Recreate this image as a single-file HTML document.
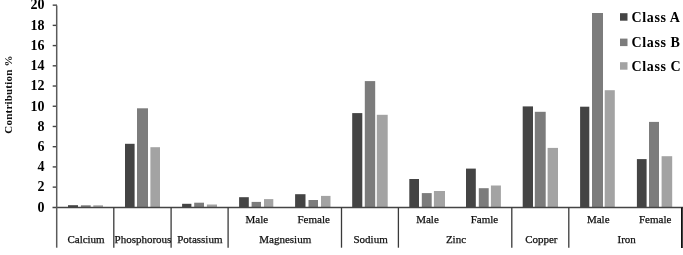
<!DOCTYPE html>
<html><head><meta charset="utf-8"><title>Contribution chart</title>
<style>
html,body{margin:0;padding:0;background:#fff;}
body{width:683px;height:255px;overflow:hidden;}
svg{display:block;filter:blur(0.3px);}
.tl{font-family:"Liberation Serif",serif;font-weight:bold;font-size:14px;fill:#000;}
.cl{font-family:"Liberation Serif",serif;font-size:11px;fill:#111;stroke:#111;stroke-width:0.25px;}
.lg{font-family:"Liberation Serif",serif;font-weight:bold;font-size:14px;fill:#000;letter-spacing:0.6px;}
.yl{font-family:"Liberation Serif",serif;font-weight:bold;font-size:11px;fill:#111;letter-spacing:0.2px;}
</style></head>
<body>
<svg width="683" height="255" viewBox="0 0 683 255">
<rect width="683" height="255" fill="#fff"/>
<g>
<rect x="68.00" y="205.20" width="10.00" height="2.40" fill="#444444"/>
<rect x="80.90" y="205.30" width="9.80" height="2.30" fill="#7c7c7c"/>
<rect x="93.30" y="205.30" width="9.70" height="2.30" fill="#a3a3a3"/>
<rect x="125.00" y="143.80" width="9.60" height="63.80" fill="#444444"/>
<rect x="137.00" y="108.30" width="11.00" height="99.30" fill="#7c7c7c"/>
<rect x="150.40" y="147.20" width="9.60" height="60.40" fill="#a3a3a3"/>
<rect x="182.10" y="203.80" width="9.30" height="3.80" fill="#444444"/>
<rect x="194.20" y="202.70" width="9.80" height="4.90" fill="#7c7c7c"/>
<rect x="206.90" y="204.50" width="10.10" height="3.10" fill="#a3a3a3"/>
<rect x="239.10" y="197.20" width="9.70" height="10.40" fill="#444444"/>
<rect x="251.60" y="201.90" width="9.40" height="5.70" fill="#7c7c7c"/>
<rect x="264.00" y="199.10" width="9.30" height="8.50" fill="#a3a3a3"/>
<rect x="295.10" y="194.20" width="10.40" height="13.40" fill="#444444"/>
<rect x="308.50" y="200.00" width="9.50" height="7.60" fill="#7c7c7c"/>
<rect x="321.00" y="195.90" width="9.50" height="11.70" fill="#a3a3a3"/>
<rect x="352.20" y="113.10" width="10.10" height="94.50" fill="#444444"/>
<rect x="364.80" y="81.10" width="10.40" height="126.50" fill="#7c7c7c"/>
<rect x="376.80" y="114.80" width="10.90" height="92.80" fill="#a3a3a3"/>
<rect x="409.30" y="179.00" width="9.70" height="28.60" fill="#444444"/>
<rect x="421.80" y="193.10" width="9.90" height="14.50" fill="#7c7c7c"/>
<rect x="433.90" y="191.00" width="11.10" height="16.60" fill="#a3a3a3"/>
<rect x="466.00" y="168.60" width="9.80" height="39.00" fill="#444444"/>
<rect x="478.80" y="188.20" width="9.90" height="19.40" fill="#7c7c7c"/>
<rect x="490.90" y="185.50" width="10.00" height="22.10" fill="#a3a3a3"/>
<rect x="522.70" y="106.40" width="10.30" height="101.20" fill="#444444"/>
<rect x="534.80" y="111.80" width="10.90" height="95.80" fill="#7c7c7c"/>
<rect x="547.60" y="147.90" width="10.40" height="59.70" fill="#a3a3a3"/>
<rect x="580.10" y="106.70" width="9.20" height="100.90" fill="#444444"/>
<rect x="592.00" y="13.00" width="11.00" height="194.60" fill="#7c7c7c"/>
<rect x="604.70" y="90.20" width="10.10" height="117.40" fill="#a3a3a3"/>
<rect x="636.90" y="159.10" width="9.70" height="48.50" fill="#444444"/>
<rect x="649.00" y="121.90" width="10.00" height="85.70" fill="#7c7c7c"/>
<rect x="661.60" y="156.20" width="10.60" height="51.40" fill="#a3a3a3"/>
</g>
<g stroke="#444" stroke-width="1.4">
<line x1="52.7" y1="187.13" x2="57" y2="187.13"/>
<line x1="52.7" y1="166.91" x2="57" y2="166.91"/>
<line x1="52.7" y1="146.69" x2="57" y2="146.69"/>
<line x1="52.7" y1="126.47" x2="57" y2="126.47"/>
<line x1="52.7" y1="106.25" x2="57" y2="106.25"/>
<line x1="52.7" y1="86.03" x2="57" y2="86.03"/>
<line x1="52.7" y1="65.81" x2="57" y2="65.81"/>
<line x1="52.7" y1="45.59" x2="57" y2="45.59"/>
<line x1="52.7" y1="25.37" x2="57" y2="25.37"/>
<line x1="52.7" y1="5.15" x2="57" y2="5.15"/>
<line x1="52.5" y1="207.5" x2="683" y2="207.5"/>
</g>
<g stroke="#5a5a5a" stroke-width="1.5">
<line x1="56.7" y1="5.5" x2="56.7" y2="247.7"/>
</g>
<g stroke="#3a3a3a" stroke-width="1.3">
<line x1="113.8" y1="207.5" x2="113.8" y2="247.7"/>
<line x1="171.1" y1="207.5" x2="171.1" y2="247.7"/>
<line x1="228.1" y1="207.5" x2="228.1" y2="247.7"/>
<line x1="341.5" y1="207.5" x2="341.5" y2="247.7"/>
<line x1="398.4" y1="207.5" x2="398.4" y2="247.7"/>
<line x1="511.8" y1="207.5" x2="511.8" y2="247.7"/>
<line x1="568.8" y1="207.5" x2="568.8" y2="247.7"/>
</g>
<line x1="681.9" y1="207.5" x2="681.9" y2="247.9" stroke="#111" stroke-width="1.8"/>
<g class="tl" text-anchor="end">
<text x="44.6" y="211.65">0</text>
<text x="44.6" y="191.43">2</text>
<text x="44.6" y="171.21">4</text>
<text x="44.6" y="150.99">6</text>
<text x="44.6" y="130.77">8</text>
<text x="44.6" y="110.55">10</text>
<text x="44.6" y="90.33">12</text>
<text x="44.6" y="70.11">14</text>
<text x="44.6" y="49.89">16</text>
<text x="44.6" y="29.67">18</text>
<text x="44.6" y="9.45">20</text>
</g>
<g class="cl" text-anchor="middle">
<text x="256.78" y="222.7">Male</text>
<text x="313.69" y="222.7">Female</text>
<text x="427.51" y="222.7">Male</text>
<text x="484.43" y="222.7">Famle</text>
<text x="598.25" y="222.7">Male</text>
<text x="655.15" y="222.7">Female</text>
<text x="86.06" y="242.8">Calcium</text>
<text x="142.96" y="242.8">Phosphorous</text>
<text x="199.88" y="242.8">Potassium</text>
<text x="285.24" y="242.8">Magnesium</text>
<text x="370.60" y="242.8">Sodium</text>
<text x="455.97" y="242.8">Zinc</text>
<text x="541.34" y="242.8">Copper</text>
<text x="626.70" y="242.8">Iron</text>
</g>
<g class="lg">
<rect x="620" y="13.2" width="7.5" height="7.5" fill="#444444"/>
<text x="631.6" y="21.8">Class A</text>
<rect x="620" y="38.6" width="7.5" height="7.5" fill="#7c7c7c"/>
<text x="631.6" y="47.2">Class B</text>
<rect x="620" y="62.2" width="7.5" height="7.5" fill="#a3a3a3"/>
<text x="631.6" y="70.8">Class C</text>
</g>
<text class="yl" text-anchor="middle" transform="translate(12.3,94.5) rotate(-90)">Contribution %</text>
</svg>
</body></html>
